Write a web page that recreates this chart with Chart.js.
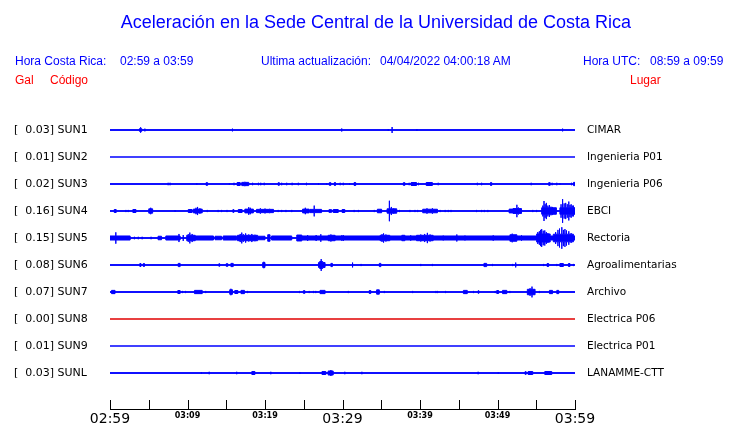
<!DOCTYPE html>
<html>
<head>
<meta charset="utf-8">
<script src="https://cdn.jsdelivr.net/npm/chart.js@4/dist/chart.umd.min.js"></script>
<style>
  body { margin: 0; background: #fff; }
  #wrap { position: relative; width: 740px; height: 423px; }
  #wrap canvas { position: absolute; left: 0; top: 0; }
  .txt { position: absolute; font-family: "Liberation Sans", Arial, sans-serif; line-height: 1; white-space: pre; }
  .blue { color: #0000ff; }
  .red { color: #ff0000; }
</style>
</head>
<body>
<div id="wrap">
  <canvas id="chart" width="740" height="423"></canvas>
  <div class="txt blue" style="left:0;width:752px;text-align:center;top:13px;font-size:18px">Aceleración en la Sede Central de la Universidad de Costa Rica</div>
  <div class="txt blue" style="left:15px;top:55px;font-size:12px">Hora Costa Rica:</div>
  <div class="txt blue" style="left:120px;top:55px;font-size:12px">02:59 a 03:59</div>
  <div class="txt blue" style="left:261px;top:55px;font-size:12px">Ultima actualización:</div>
  <div class="txt blue" style="left:380px;top:55px;font-size:12px">04/04/2022 04:00:18 AM</div>
  <div class="txt blue" style="left:583px;top:55px;font-size:12px">Hora UTC:</div>
  <div class="txt blue" style="left:650px;top:55px;font-size:12px">08:59 a 09:59</div>
  <div class="txt red" style="left:15px;top:74px;font-size:12px">Gal</div>
  <div class="txt red" style="left:50px;top:74px;font-size:12px">Código</div>
  <div class="txt red" style="left:630px;top:74px;font-size:12px">Lugar</div>
</div>
<script>
// time window in minutes after 02:59
const T_START = 0;
const T_END = 60;
const TIME_LABELS = ['02:59', '03:09', '03:19', '03:29', '03:39', '03:49', '03:59'];

const TRACE_CODES = ['SUN1', 'SUN2', 'SUN3', 'SUN4', 'SUN5', 'SUN6', 'SUN7', 'SUN8', 'SUN9', 'SUNL'];
const TRACE_PEAKS = ['0.03', '0.01', '0.02', '0.16', '0.15', '0.08', '0.07', '0.00', '0.01', '0.03'];
const TRACE_PLACES = ['CIMAR', 'Ingenieria P01', 'Ingenieria P06', 'EBCI', 'Rectoria',
  'Agroalimentarias', 'Archivo', 'Electrica P06', 'Electrica P01', 'LANAMME-CTT'];

// bursts per station: [start min, end min, half amplitude]; start == end is a single spike
const SUN1_EVENTS = [[3.8, 4.1, 0.05], [3.95, 3.95, 0.1], [4.5, 4.5, 0.05], [15.8, 15.8, 0.05],
  [29.9, 29.9, 0.055], [35.9, 35.9, 0.035], [36.4, 36.4, 0.11], [39.6, 39.6, 0.035], [58.4, 58.4, 0.05]];
const SUN2_EVENTS = [];
const SUN3_EVENTS = [[7.5, 7.5, .045], [7.75, 7.75, .045], [11.2, 11.2, .035], [12.4, 12.6, .05], [15.4, 15.4, .035],
  [16.0, 16.0, .045], [16.4, 16.8, .055], [17.0, 17.9, .06], [17.4, 17.4, .08], [18.4, 18.4, .045],
  [19.15, 19.15, .045], [19.45, 19.45, .045], [19.9, 19.9, .045], [21.7, 21.85, .05], [22.15, 22.15, .045],
  [22.8, 22.8, .045], [23.5, 23.5, .045], [24.3, 24.3, .045], [25.35, 25.35, .045], [26.9, 26.9, .035],
  [27.95, 27.95, .035], [28.3, 28.5, .05], [28.95, 29.1, .055], [29.7, 29.7, .045], [30.1, 30.1, .045],
  [30.9, 30.9, .035], [31.5, 31.7, .055], [37.85, 38.05, .05], [38.6, 38.6, .045], [38.85, 39.55, .055],
  [39.8, 39.8, .045], [40.8, 41.6, .055], [42.35, 42.35, .045], [47.4, 47.4, .045], [47.95, 47.95, .045],
  [49.1, 49.25, .055], [54.35, 54.35, .045], [56.6, 56.8, .05], [57.05, 57.05, .045], [57.65, 57.65, .045],
  [58.05, 58.05, .035], [59.55, 59.55, .045], [59.8, 60, .06]];
const SUN4_EVENTS = [[0.55, 0.8, .055], [2.05, 2.05, .04], [2.35, 2.35, .04], [2.95, 3.35, .055], [5.0, 5.5, .08],
  [5.25, 5.25, .12], [8.4, 8.4, .035], [10.1, 10.6, .055], [10.75, 11.9, .07], [11.1, 11.1, .12], [11.3, 11.3, .15],
  [11.6, 11.6, .1], [12.55, 12.55, .04], [13.95, 13.95, .04], [14.4, 14.4, .04], [15.1, 15.1, .04],
  [15.85, 16.0, .05], [16.55, 17.05, .055], [17.4, 18.5, .07], [17.9, 17.9, .14], [18.1, 18.1, .12],
  [18.9, 21.1, .06], [19.4, 19.4, .1], [20.0, 20.0, .09], [20.6, 20.6, .08], [21.7, 21.7, .04],
  [22.15, 22.15, .04], [22.7, 22.7, .04], [23.45, 23.45, .04], [24.85, 25.7, .07], [25.2, 25.2, .12],
  [25.8, 27.3, .06], [26.35, 26.35, .2], [28.25, 28.6, .05], [28.8, 29.45, .055], [29.95, 30.3, .055],
  [31.5, 31.5, .04], [32.05, 32.05, .04], [34.1, 34.1, .04], [34.5, 35.05, .065], [35.75, 37.0, .08],
  [36.05, 36.05, .38], [36.3, 36.3, .15], [36.6, 36.6, .1], [37.35, 37.35, .04], [38.7, 38.7, .04],
  [39.35, 39.35, .04], [39.7, 39.7, .04], [40.35, 42.25, .065], [40.9, 40.9, .1], [41.6, 41.6, .1],
  [42.6, 42.6, .04], [43.25, 43.25, .04], [43.65, 43.65, .04], [44.0, 44.0, .04], [47.3, 47.3, .04],
  [47.95, 47.95, .04], [48.3, 48.3, .04], [48.75, 48.75, .04], [51.5, 52.0, .07], [52.0, 53.1, .09],
  [52.5, 52.5, .23], [52.7, 52.7, .13], [54.55, 54.55, .04], [55.05, 55.05, .04], [55.7, 57.6, .12],
  [55.85, 55.85, .2], [56.0, 56.0, .37], [56.15, 56.15, .25], [56.3, 56.3, .3], [56.5, 56.5, .2],
  [56.7, 56.7, .22], [56.9, 56.9, .16], [57.1, 57.1, .15], [58.05, 60, .12], [58.2, 58.2, .25],
  [58.4, 58.4, .44], [58.6, 58.6, .28], [58.8, 58.8, .3], [59.0, 59.0, .25], [59.2, 59.2, .35],
  [59.35, 59.35, .22], [59.5, 59.5, .25], [59.65, 59.65, .2], [59.8, 59.8, .2]];
const SUN5_EVENTS = [[0, 2.6, .075], [0.75, 0.75, .21], [3.15, 3.15, .045], [3.65, 3.65, .045], [4.15, 4.15, .045],
  [5.3, 5.3, .045], [6.2, 6.65, .065], [7.2, 9.05, .075], [8.9, 8.9, .15], [9.45, 9.45, .11], [9.9, 11.0, .1],
  [10.1, 10.1, .14], [10.3, 10.3, .2], [10.6, 10.6, .15], [11.0, 13.35, .075], [13.55, 14.4, .065],
  [14.6, 16.35, .075], [16.45, 19.05, .1], [16.8, 16.8, .15], [17.0, 17.0, .2], [17.2, 17.2, .14],
  [17.5, 17.5, .17], [17.9, 17.9, .13], [18.3, 18.3, .15], [18.7, 18.7, .12], [19.1, 20.0, .065],
  [20.35, 20.65, .12], [20.85, 23.45, .075], [24.1, 24.75, .11], [24.75, 60, .075], [25.5, 25.5, .11],
  [26.6, 26.6, .11], [27.2, 27.2, .14], [28.15, 29.05, .1], [28.5, 28.5, .13], [29.9, 29.9, .1],
  [30.1, 30.1, .11], [34.85, 36.1, .1], [35.1, 35.1, .14], [35.3, 35.3, .17], [35.6, 35.6, .13],
  [37.65, 38.05, .1], [38.8, 38.8, .1], [39.55, 41.7, .1], [40.1, 40.1, .13], [40.6, 40.6, .15],
  [40.95, 40.95, .19], [41.3, 41.3, .13], [43.0, 43.0, .09], [44.75, 44.75, .13], [45.8, 45.8, .09],
  [49.45, 49.45, .1], [51.6, 52.5, .12], [51.9, 51.9, .16], [53.1, 53.1, .1], [55.05, 56.8, .15],
  [55.2, 55.2, .22], [55.4, 55.4, .25], [55.55, 55.55, .3], [55.7, 55.7, .33], [55.9, 55.9, .27],
  [56.1, 56.1, .28], [56.3, 56.3, .22], [56.5, 56.5, .18], [57.2, 59.8, .14], [57.5, 57.5, .22],
  [57.8, 57.8, .3], [58.0, 58.0, .35], [58.3, 58.3, .4], [58.5, 58.5, .3], [58.7, 58.7, .33],
  [58.9, 58.9, .28], [59.2, 59.2, .25], [59.5, 59.5, .18]];
const SUN6_EVENTS = [[3.85, 4.0, .055], [4.3, 4.45, .055], [8.8, 9.05, .06], [14.05, 14.15, .05], [15.0, 15.2, .05],
  [15.6, 15.9, .06], [19.7, 20.0, .09], [19.85, 19.85, .12], [26.9, 27.75, .09], [27.05, 27.45, .13],
  [27.25, 27.25, .22], [28.5, 28.7, .06], [31.3, 31.3, .09], [32.4, 32.4, .04], [34.75, 34.95, .06],
  [40.1, 40.1, .04], [41.6, 41.6, .04], [48.25, 48.6, .06], [49.35, 49.35, .04], [51.95, 51.95, .04],
  [52.35, 52.35, .09], [55.95, 55.95, .04], [56.4, 56.6, .055], [57.65, 57.65, .04], [58.05, 58.5, .055],
  [59.15, 59.35, .055], [59.8, 59.8, .04]];
const SUN7_EVENTS = [[0.2, 0.65, .06], [8.75, 9.05, .055], [9.35, 9.35, .04], [9.75, 9.75, .04], [10.9, 11.9, .06],
  [12.35, 12.35, .04], [15.45, 15.8, .085], [15.6, 15.6, .12], [16.1, 16.5, .055], [16.9, 17.35, .06],
  [17.75, 17.75, .04], [24.45, 24.45, .04], [24.95, 25.15, .05], [25.7, 25.7, .04], [26.25, 26.25, .04],
  [26.55, 26.55, .04], [27.1, 27.75, .06], [30.75, 30.75, .04], [33.45, 33.65, .055], [34.4, 34.75, .08],
  [35.4, 35.4, .04], [39.05, 39.05, .04], [42.05, 42.05, .04], [42.25, 42.25, .04], [43.3, 43.3, .04],
  [45.6, 46.1, .06], [46.9, 46.9, .04], [47.5, 47.6, .05], [49.7, 49.7, .04], [49.9, 50.15, .055],
  [50.65, 51.2, .06], [51.6, 51.6, .04], [53.85, 54.85, .1], [54.2, 54.2, .14], [54.45, 54.45, .2],
  [55.4, 55.4, .04], [56.7, 57.1, .06], [57.65, 57.9, .06]];
const SUN8_EVENTS = [];
const SUN9_EVENTS = [];
const SUNL_EVENTS = [[11.8, 11.8, .035], [12.8, 12.8, .045], [16.35, 16.35, .045], [18.3, 18.7, .055],
  [20.75, 20.75, .045], [24.5, 24.5, .035], [27.35, 27.85, .055], [28.15, 28.8, .075], [28.5, 28.5, .11],
  [30.3, 30.3, .045], [32.5, 32.5, .045], [47.5, 47.5, .045], [50.1, 50.1, .035], [53.55, 53.7, .05],
  [53.95, 54.55, .055], [56.1, 57.0, .055]];

const TRACE_EVENTS = [SUN1_EVENTS, SUN2_EVENTS, SUN3_EVENTS, SUN4_EVENTS, SUN5_EVENTS,
  SUN6_EVENTS, SUN7_EVENTS, SUN8_EVENTS, SUN9_EVENTS, SUNL_EVENTS];

// turn burst list into step points around the trace row (sign -1 = up, +1 = down)
function envelope(events, row, sign) {
  const cuts = new Set([T_START, T_END]);
  events.forEach(e => { cuts.add(e[0]); cuts.add(e[1]); });
  const times = [...cuts].sort((a, b) => a - b);
  const pts = [];
  times.forEach(t => {
    let level = 0, spike = 0;
    events.forEach(([t0, t1, a]) => {
      if (t0 === t1) { if (t0 === t) spike = Math.max(spike, a); }
      else if (t0 <= t && t < t1) level = Math.max(level, a);
    });
    if (spike > level) pts.push({ x: t, y: row + sign * spike });
    pts.push({ x: t, y: row + sign * level });
  });
  return pts;
}

const datasets = [];
TRACE_CODES.forEach((code, i) => {
  const color = TRACE_PEAKS[i] === '0.00' ? '#e00000' : '#0000ff';
  datasets.push({
    data: [{ x: T_START, y: i }, { x: T_END, y: i }],
    borderColor: color, borderWidth: 1.5
  });
  if (TRACE_EVENTS[i].length) {
    [-1, 1].forEach(sign => {
      datasets.push({
        data: envelope(TRACE_EVENTS[i], i, sign),
        stepped: true,
        borderColor: color, borderWidth: 1,
        backgroundColor: color,
        fill: { value: i }
      });
    });
  }
});

const rowTicks = scale => { scale.ticks = TRACE_CODES.map((c, i) => ({ value: i })); };
// keep the label axes from reserving extra room above / below the plot
const rowAxisWidth = w => s => { s.width = w; s.paddingTop = 0; s.paddingBottom = 0; };

// small upward tick marks on the time axis
const tickMarks = {
  id: 'tickMarks',
  afterDraw(chart) {
    const { ctx } = chart;
    const x = chart.scales.x;
    ctx.save();
    ctx.strokeStyle = '#000';
    ctx.lineWidth = 1;
    x.ticks.forEach(t => {
      const px = Math.round(x.getPixelForValue(t.value)) + 0.5;
      ctx.beginPath();
      ctx.moveTo(px, x.top);
      ctx.lineTo(px, x.top - 9);
      ctx.stroke();
    });
    ctx.restore();
  }
};

new Chart(document.getElementById('chart'), {
  type: 'line',
  data: { datasets },
  plugins: [tickMarks],
  options: {
    responsive: false,
    animation: false,
    layout: { padding: { left: 14, top: 116.5, right: 0, bottom: 0 } },
    elements: { point: { radius: 0 }, line: { tension: 0 } },
    plugins: { legend: { display: false }, tooltip: { enabled: false }, title: { display: false } },
    scales: {
      x: {
        type: 'linear', min: T_START, max: T_END,
        grid: { display: false, drawTicks: false },
        border: { display: true, color: '#000', width: 1 },
        ticks: {
          stepSize: 5, autoSkip: false, maxRotation: 0, padding: 2, color: '#000',
          callback: v => (v % 10 === 0 ? TIME_LABELS[v / 10] : ''),
          font: ctx => (ctx.tick && ctx.tick.value % 30 === 0)
            ? { family: 'DejaVu Sans', size: 14 }
            : { family: 'DejaVu Sans', size: 8, weight: 'bold' }
        },
        afterFit: s => { s.height = 14; }
      },
      y: {
        type: 'linear', position: 'left', reverse: true, min: -0.5, max: 10.333,
        grid: { display: false, drawTicks: false },
        border: { display: false },
        afterBuildTicks: rowTicks,
        ticks: {
          autoSkip: false, crossAlign: 'far', padding: 0, color: '#000',
          font: { family: 'DejaVu Sans', size: 11 },
          callback: v => '[  ' + TRACE_PEAKS[v] + '] ' + TRACE_CODES[v]
        },
        afterFit: rowAxisWidth(96)
      },
      y2: {
        type: 'linear', position: 'right', reverse: true, min: -0.5, max: 10.333,
        grid: { display: false, drawTicks: false },
        border: { display: false },
        afterBuildTicks: rowTicks,
        ticks: {
          autoSkip: false, padding: 12, color: '#000',
          font: { family: 'DejaVu Sans', size: 10.5 },
          callback: v => TRACE_PLACES[v]
        },
        afterFit: rowAxisWidth(165)
      }
    }
  }
});
</script>
</body>
</html>
